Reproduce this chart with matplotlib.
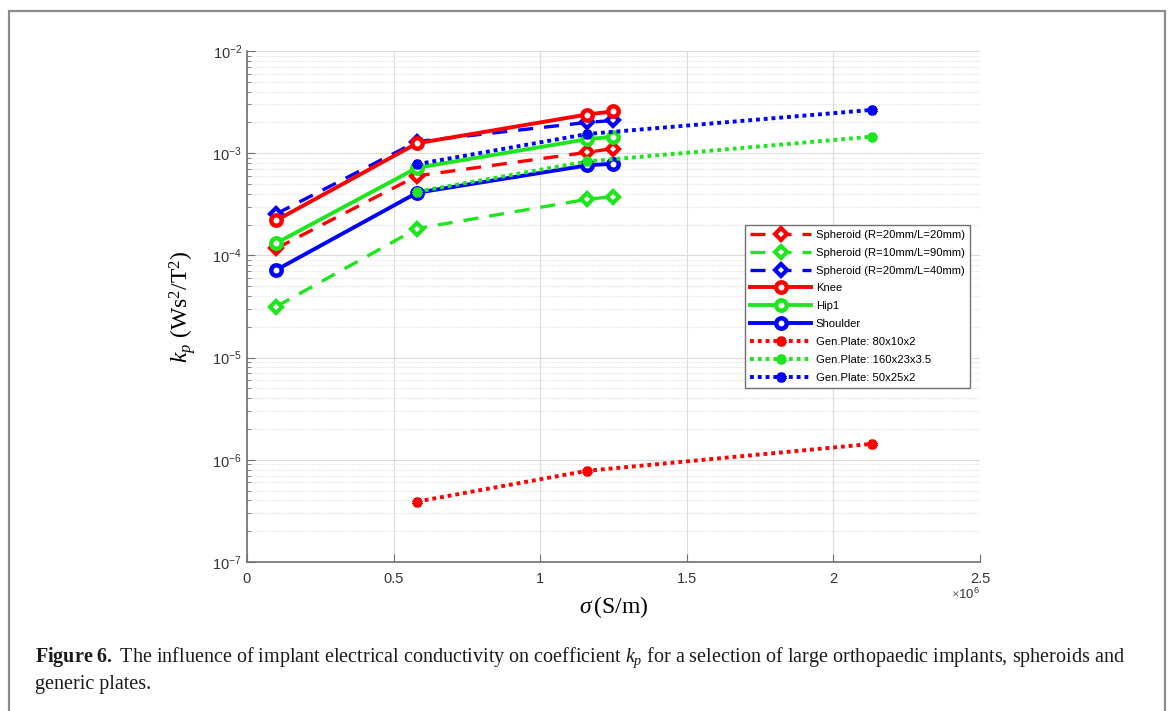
import matplotlib
matplotlib.use('Agg')
import matplotlib.pyplot as plt
from matplotlib.patches import Rectangle
from matplotlib.ticker import FuncFormatter, LogLocator, MultipleLocator
import numpy as np

plt.rcParams['font.family'] = ['Liberation Sans', 'DejaVu Sans']
plt.rcParams['mathtext.fontset'] = 'custom'
plt.rcParams['mathtext.rm'] = 'Liberation Serif'
plt.rcParams['mathtext.it'] = 'Liberation Serif:italic'
plt.rcParams['mathtext.bf'] = 'Liberation Serif:bold'

# conductivity (S/m)
sigma_implant = [0.1e6, 0.58e6, 1.16e6, 1.25e6]
sigma_plate = [0.58e6, 1.16e6, 2.13e6]

# k_p values (Ws^2/T^2)
sph_20_20 = [1.17e-4, 6.0e-4, 1.02e-3, 1.11e-3]
sph_10_90 = [3.16e-5, 1.83e-4, 3.54e-4, 3.76e-4]
sph_20_40 = [2.55e-4, 1.3e-3, 2.0e-3, 2.09e-3]
knee = [2.2e-4, 1.25e-3, 2.39e-3, 2.57e-3]
hip1 = [1.32e-4, 7.2e-4, 1.37e-3, 1.45e-3]
shoulder = [7.2e-5, 4.1e-4, 7.6e-4, 7.9e-4]
plate_80 = [3.9e-7, 7.8e-7, 1.43e-6]
plate_160 = [4.2e-4, 8.3e-4, 1.45e-3]
plate_50 = [7.8e-4, 1.54e-3, 2.65e-3]

RED = '#ff0000'
GREEN = '#1ee61e'
BLUE = '#0000ff'

fig = plt.figure(figsize=(11.71, 7.11), dpi=100)
ax = fig.add_axes([0.2109, 0.2096, 0.626, 0.7187])

dash = (0, (4.5, 3.3))
dot = (0, (1, 1))
lw = 2.4
star = (6, 2, 0)

spheroids = [(sph_20_20, RED, 'Spheroid (R=20mm/L=20mm)'),
             (sph_10_90, GREEN, 'Spheroid (R=10mm/L=90mm)'),
             (sph_20_40, BLUE, 'Spheroid (R=20mm/L=40mm)')]
for y, c, lab in spheroids:
    ax.plot(sigma_implant, y, color=c, ls=dash, lw=lw, marker='D', ms=6.5,
            mfc='white', mew=3, label=lab)

implants = [(knee, RED, 'Knee'), (hip1, GREEN, 'Hip1'), (shoulder, BLUE, 'Shoulder')]
for y, c, lab in implants:
    ax.plot(sigma_implant, y, color=c, ls='-', lw=lw + 0.4, marker='o', ms=7.5,
            mfc='white', mew=3.2, label=lab)

plates = [(plate_80, RED, 'Gen.Plate: 80x10x2'),
          (plate_160, GREEN, 'Gen.Plate: 160x23x3.5'),
          (plate_50, BLUE, 'Gen.Plate: 50x25x2')]
for y, c, lab in plates:
    ax.plot(sigma_plate, y, color=c, ls=dot, lw=lw + 0.4, marker=star, ms=7,
            mew=3, label=lab)

ax.set_yscale('log')
ax.set_xlim(0, 2.5e6)
ax.set_ylim(1e-7, 1e-2)
ax.xaxis.set_major_locator(MultipleLocator(0.5e6))
ax.xaxis.set_major_formatter(FuncFormatter(lambda v, p: '%g' % (v / 1e6)))
ax.yaxis.set_major_locator(LogLocator(base=10, numticks=10))
ax.yaxis.set_minor_locator(LogLocator(base=10, subs=np.arange(2, 10), numticks=20))

ax.grid(True, which='major', color='#dcdcdc', lw=0.8)
ax.grid(True, which='minor', axis='y', color='#e4e4e4', lw=0.8, ls=(0, (1, 1)))
ax.set_axisbelow(True)

for s in ['top', 'right']:
    ax.spines[s].set_visible(False)
for s in ['left', 'bottom']:
    ax.spines[s].set_color('#707070')
    ax.spines[s].set_linewidth(1.2)
ax.tick_params(which='both', direction='in', colors='#707070', labelcolor='#333333',
               labelsize=10.5)
ax.tick_params(which='major', length=6)
ax.tick_params(which='minor', length=3)
ax.tick_params(axis='x', pad=7)

ax.text(1.0, -0.048, r'$\times\mathdefault{10^{6}}$', transform=ax.transAxes,
        ha='right', va='top', fontsize=9.5, color='#333333')

ax.set_xlabel(r'$\sigma\,$(S/m)', family='Liberation Serif', fontsize=17, labelpad=6)
ax.set_ylabel(r'$k_p$ (Ws$^2$/T$^2$)', family='Liberation Serif', fontsize=17, labelpad=10)

leg = ax.legend(loc='upper right', bbox_to_anchor=(0.986, 0.66), borderaxespad=0,
                fontsize=8.1, handlelength=5.4, labelspacing=0.7, handletextpad=0.4,
                borderpad=0.45, fancybox=False, framealpha=1, edgecolor='#707070')
leg.get_frame().set_linewidth(1.0)

fig.patches.append(Rectangle((9 / 1171, -0.02), (1165 - 9) / 1171, 1 - 11 / 711 + 0.02,
                             transform=fig.transFigure, fill=False,
                             edgecolor='#8c8c8c', lw=1.6))

fig.text(35 / 1171, 1 - 658 / 711,
         r'$\mathbf{Figure\ 6.}$ The influence of implant electrical conductivity on '
         r'coefficient $k_p$ for a selection of large orthopaedic implants, spheroids and',
         family='Liberation Serif', fontsize=14.5, va='center', ha='left', color='#1a1a1a')
fig.text(35 / 1171, 1 - 684 / 711, 'generic plates.',
         family='Liberation Serif', fontsize=14.5, va='center', ha='left', color='#1a1a1a')

fig.savefig('out.png', dpi=100)
